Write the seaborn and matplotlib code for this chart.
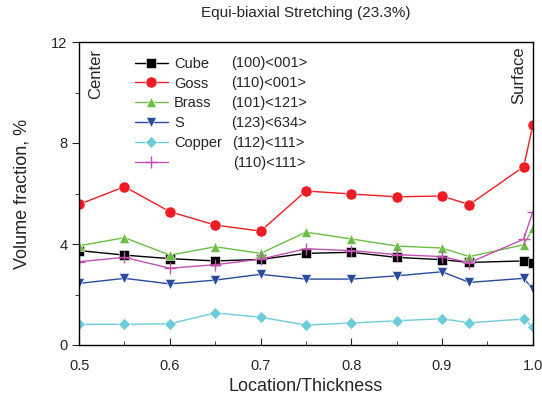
import matplotlib
matplotlib.use("Agg")
import matplotlib.pyplot as plt
import seaborn as sns
import pandas as pd
from matplotlib.ticker import MultipleLocator

location = [0.5, 0.55, 0.6, 0.65, 0.7, 0.75, 0.8, 0.85, 0.9, 0.93, 0.99, 1.0]
cube   = [3.74, 3.56, 3.42, 3.33, 3.39, 3.63, 3.67, 3.47, 3.38, 3.27, 3.33, 3.25]
goss   = [5.57, 6.27, 5.28, 4.75, 4.51, 6.10, 5.98, 5.87, 5.90, 5.56, 7.06, 8.70]
brass  = [3.93, 4.25, 3.56, 3.89, 3.63, 4.47, 4.20, 3.92, 3.84, 3.50, 3.97, 4.62]
s_comp = [2.44, 2.64, 2.42, 2.57, 2.80, 2.61, 2.61, 2.74, 2.90, 2.48, 2.64, 2.22]
copper = [0.82, 0.82, 0.84, 1.27, 1.10, 0.79, 0.87, 0.96, 1.04, 0.88, 1.03, 0.71]
t110   = [3.30, 3.47, 3.04, 3.18, 3.40, 3.81, 3.74, 3.58, 3.50, 3.26, 4.19, 5.28]

names = ["Cube", "Goss", "Brass", "S", "Copper", "(110)<111>"]
indices = ["(100)<001>", "(110)<001>", "(101)<121>", "(123)<634>", "(112)<111>", "(110)<111>"]
series = [cube, goss, brass, s_comp, copper, t110]

colors = ["#000000", "#EE1C24", "#6CBD45", "#2A4B9B", "#6DCCD8", "#C450B0"]
markers = ["s", "o", "^", "v", "D", "+"]
msizes = [6.5, 8.0, 7.5, 7.5, 6.0, 8.0]

rows = []
for n, vals in zip(names, series):
    for x, v in zip(location, vals):
        rows.append({"Location": x, "Value": v, "Texture": n})
df = pd.DataFrame(rows)

sns.set_style("ticks")
plt.rcParams["font.family"] = ["Liberation Sans", "DejaVu Sans"]

fig = plt.figure(figsize=(5.42, 4.0), dpi=100)
ax = fig.add_axes([0.146, 0.1375, 0.837, 0.7575])

for n, c, m, ms in zip(names, colors, markers, msizes):
    sub = df[df["Texture"] == n]
    sns.lineplot(data=sub, x="Location", y="Value", ax=ax, color=c, marker=m,
                 markersize=ms, linewidth=1.0, markeredgecolor=c if m == "+" else "white",
                 markeredgewidth=1.0 if m == "+" else 0.4, label=n if n != "(110)<111>" else " ",
                 legend=False)

ax.set_xlim(0.5, 1.0)
ax.set_ylim(0, 12)
ax.xaxis.set_major_locator(MultipleLocator(0.1))
ax.xaxis.set_minor_locator(MultipleLocator(0.05))
ax.yaxis.set_major_locator(MultipleLocator(4))
ax.yaxis.set_minor_locator(MultipleLocator(2))
ax.tick_params(axis="x", which="both", direction="in", labelsize=10.5, pad=10)
ax.tick_params(axis="x", which="major", length=5)
ax.tick_params(axis="x", which="minor", length=3)
ax.tick_params(axis="y", which="both", direction="out", labelsize=10.5)
ax.tick_params(axis="y", which="major", length=5)
ax.tick_params(axis="y", which="minor", length=3)
for sp in ax.spines.values():
    sp.set_visible(True)
    sp.set_linewidth(1.0)
    sp.set_color("black")

ax.set_xlabel("Location/Thickness", fontsize=13, labelpad=4)
ax.set_ylabel("Volume fraction, %", fontsize=13, labelpad=15)
fig.text(0.564, 0.967, "Equi-biaxial Stretching (23.3%)", ha="center", va="center", fontsize=11)

handles, labels = ax.get_legend_handles_labels()
leg = ax.legend(handles, labels, loc="upper left", bbox_to_anchor=(0.1, 0.985),
                frameon=False, fontsize=10.5, handlelength=2.3, labelspacing=0.4,
                handletextpad=0.4, borderaxespad=0.3)

row_y = [63, 83, 103, 123, 143, 163]
row_x = [231, 231, 231, 231, 232, 233]
for t, yy, xx in zip(indices, row_y, row_x):
    fig.text(xx / 542, 1 - yy / 400, t, ha="left", va="center", fontsize=10.5)

ax.text(0.037, 0.978, "Center", rotation=90, ha="center", va="top", fontsize=12, transform=ax.transAxes)
ax.text(0.970, 0.985, "Surface", rotation=90, ha="center", va="top", fontsize=12, transform=ax.transAxes)

fig.savefig("out.png", dpi=100)
